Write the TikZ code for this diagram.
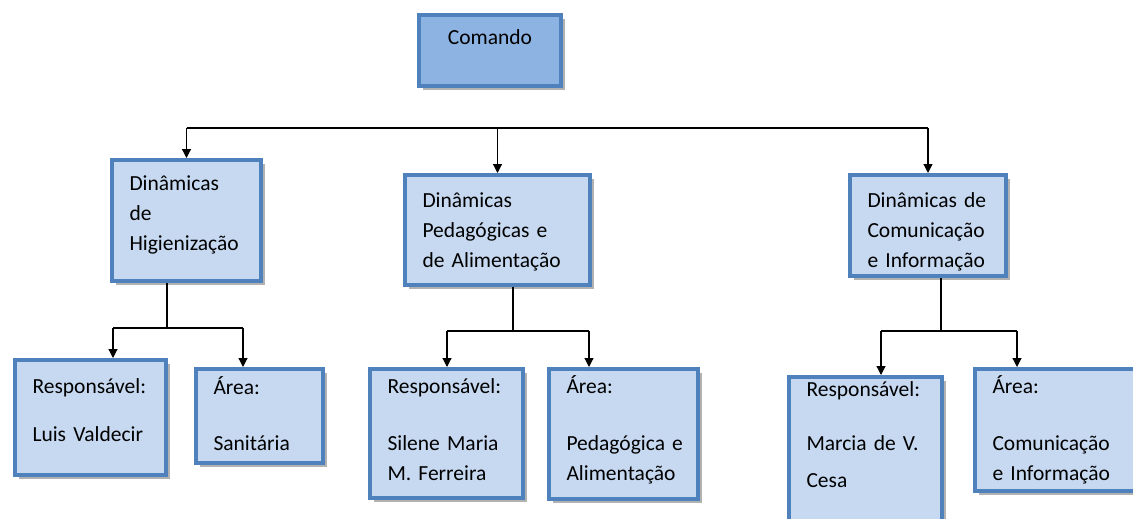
\documentclass[tikz,border=0pt]{standalone}
\usepackage{fontspec}
\setmainfont{Carlito}
\usetikzlibrary{arrows.meta,shadows}
\definecolor{borda}{HTML}{4F81BD}
\definecolor{fundo}{HTML}{C6D9F1}
\definecolor{fundoforte}{HTML}{8DB3E2}
\begin{document}
\begin{tikzpicture}[x=1pt, y=-1pt,
    caixa/.style={draw=borda, line width=4pt, fill=fundo, anchor=north west,
        inner xsep=17.5pt, inner ysep=0pt, align=left,
        font=\fontsize{21.5}{30}\selectfont,
        drop shadow={shadow xshift=4pt, shadow yshift=-4pt, fill=black, opacity=.3}},
    linha/.style={line width=1.2pt},
    seta/.style={linha, -{Triangle[length=9pt, width=9pt]}}]
    \useasboundingbox (0,0) rectangle (1133,519);

    \node[caixa, fill=fundoforte, align=center, text width=107pt, text height=30pt, text depth=41pt] (comando) at (417,13) {Comando};

    \node[caixa, text width=114pt, text height=30pt, text depth=91pt] (hig) at (110,158) {Dinâmicas\\de\\Higienização};
    \node[caixa, text width=150pt, text height=32pt, text depth=78pt] (ped) at (403,173) {Dinâmicas\\Pedagógicas~e\\de~Alimentação};
    \node[caixa, text width=121pt, text height=32pt, text depth=69pt] (com) at (848,173) {Dinâmicas~de\\Comunicação\\e~Informação};

    \node[caixa, text width=116pt, text height=33pt, text depth=82pt] (resp1) at (13,358) {Responsável:\\[18pt]Luis~Valdecir};
    \node[caixa, text width=92pt, text height=25pt, text depth=69pt] (area1) at (194,367) {Área:\\[26pt]Sanitária};
    \node[caixa, text width=118pt, text height=24pt, text depth=105pt] (resp2) at (368,367) {Responsável:\\[27pt]Silene~Maria\\M.~Ferreira};
    \node[caixa, text width=114pt, text height=24pt, text depth=106pt] (area2) at (547,367) {Área:\\[27pt]Pedagógica~e\\Alimentação};
    \node[caixa, text width=118pt, text height=19pt, text depth=132pt] (resp3) at (787,375) {Responsável:\\[24pt]Marcia~de~V.\\[7pt]Cesa};
    \node[caixa, text width=133pt, text height=24pt, text depth=98pt] (area3) at (973,367) {Área:\\[27pt]Comunicação\\e~Informação};

    % barra principal
    \coordinate (barra) at (0,128);
    \draw[linha] (hig.north |- barra) -- (com.north |- barra);
    \foreach \n in {hig,ped,com}
        \draw[seta] (\n.north |- barra) -- (\n.north);

    % ramos de baixo
    \coordinate (hj) at (167,328);
    \coordinate (hl) at (113,328);
    \coordinate (hr) at (243,328);
    \coordinate (pj) at (513,331);
    \coordinate (pl) at (447,331);
    \coordinate (pr) at (589,331);
    \coordinate (cj) at (941,331);
    \coordinate (cl) at (881,331);
    \coordinate (cr) at (1017,331);

    \draw[linha] (hj |- hig.south) -- (hj);
    \draw[linha] (pj |- ped.south) -- (pj);
    \draw[linha] (cj |- com.south) -- (cj);
    \draw[linha] (hl) -- (hr);
    \draw[linha] (pl) -- (pr);
    \draw[linha] (cl) -- (cr);

    \draw[seta] (hl) -- (hl |- resp1.north);
    \draw[seta] (hr) -- (hr |- area1.north);
    \draw[seta] (pl) -- (pl |- resp2.north);
    \draw[seta] (pr) -- (pr |- area2.north);
    \draw[seta] (cl) -- (cl |- resp3.north);
    \draw[seta] (cr) -- (cr |- area3.north);
\end{tikzpicture}
\end{document}
